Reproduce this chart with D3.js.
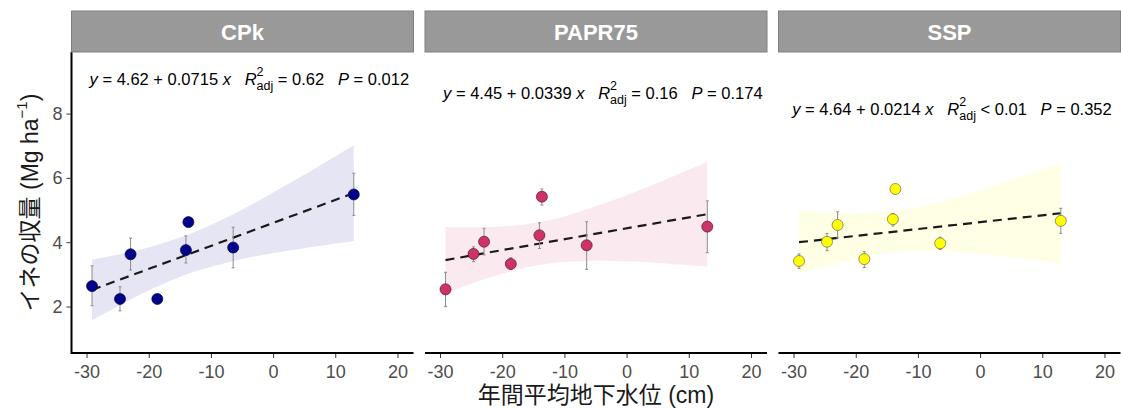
<!DOCTYPE html>
<meta charset="utf-8">
<style>
body { margin: 0; background: #fff; }
svg { font-family: "Liberation Sans", Arial, "Noto Sans CJK JP", sans-serif; }
.tick-label { fill: #4d4d4d; font-size: 18px; }
.strip-text { fill: #fff; font-size: 22px; font-weight: bold; }
.axis-title { fill: #1a1a1a; font-size: 23px; }
</style>
<body>
<div id="chart"></div>
<script src="https://d3js.org/d3.v7.min.js"></script>
<script>

// ---- data ----
var panels = ["CPk", "PAPR75", "SSP"];
var waterLevel = [-29.2, -24.7, -23.0, -18.7, -14.1, -13.7, -6.5, 12.9];

var yieldCPk = [2.65, 2.25, 3.64, 2.25, 3.77, 4.64, 3.85, 5.50];
var hiCPk    = [3.28, 2.63, 4.14, 2.33, 4.21, 4.72, 4.48, 6.16];
var loCPk    = [2.04, 1.88, 3.15, 2.17, 3.37, 4.56, 3.22, 4.85];

var yieldPAPR = [2.55, 3.65, 4.03, 3.34, 4.23, 5.43, 3.92, 4.50];
var hiPAPR    = [3.08, 3.87, 4.45, 3.53, 4.62, 5.67, 4.65, 5.30];
var loPAPR    = [2.01, 3.41, 3.62, 3.17, 3.82, 5.17, 3.17, 3.69];

var yieldSSP = [3.43, 4.03, 4.55, 3.49, 4.73, 5.67, 3.98, 4.68];
var hiSSP    = [3.65, 4.29, 4.96, 3.72, 4.91, 5.75, 4.17, 5.07];
var loSSP    = [3.20, 3.75, 4.15, 3.23, 4.52, 5.59, 3.79, 4.29];

// fitted model (from the printed equations)
var intercepts = [4.62, 4.45, 4.64];
var slopes = [0.0715, 0.0339, 0.0214];
var r2Text = ["= 0.62", "= 0.16", "< 0.01"];
var pText = ["0.012", "0.174", "0.352"];

// 95% confidence band, read at a few x positions
var bandX = [-29.2, -25, -20, -14.6, -10, -5, 0, 5, 12.9];
var bandLoCPk = [1.59, 2.03, 2.52, 2.97, 3.25, 3.49, 3.68, 3.83, 4.05];
var bandHiCPk = [3.47, 3.63, 3.86, 4.19, 4.56, 5.03, 5.57, 6.12, 7.03];
var bandLoPAPR = [2.43, 2.73, 3.04, 3.29, 3.40, 3.44, 3.42, 3.37, 3.26];
var bandHiPAPR = [4.49, 4.47, 4.50, 4.62, 4.82, 5.13, 5.48, 5.87, 6.52];
var bandLoSSP = [3.03, 3.27, 3.51, 3.69, 3.75, 3.72, 3.65, 3.55, 3.36];
var bandHiSSP = [5.00, 4.94, 4.91, 4.97, 5.11, 5.34, 5.63, 5.95, 6.48];

var xTicks = [-30, -20, -10, 0, 10, 20];
var yTicks = [2, 4, 6, 8];

// label placement (data coords)
var labelX = [-3.9, -3.9, -4.6];
var labelY = [9.09, 8.65, 8.16];

var pointFill = ["#00008b", "#cc3366", "#ffff00"];
var pointStroke = ["#000040", "#5a1030", "#666666"];

// ---- layout ----
var width = 1121, height = 409;
var panelLeft = [71.5, 425, 778.5],
    panelW = 342,
    stripTop = 11, stripH = 41,
    plotTop = 52, plotH = 301;

var series = [
  {y: yieldCPk, hi: hiCPk, lo: loCPk, bl: bandLoCPk, bh: bandHiCPk},
  {y: yieldPAPR, hi: hiPAPR, lo: loPAPR, bl: bandLoPAPR, bh: bandHiPAPR},
  {y: yieldSSP, hi: hiSSP, lo: loSSP, bl: bandLoSSP, bh: bandHiSSP}
];

var svg = d3.select("#chart").append("svg")
  .attr("width", width)
  .attr("height", height);

var x = d3.scaleLinear().domain([-32.5, 22.5]).range([0, panelW]);
var y = d3.scaleLinear().domain([0.57, 9.93]).range([plotH, 0]);

panels.forEach(function(name, i) {
  var s = series[i];
  var g = svg.append("g").attr("transform", `translate(${panelLeft[i]},${plotTop})`);

  // strip
  svg.append("rect")
    .attr("x", panelLeft[i]).attr("y", stripTop)
    .attr("width", panelW).attr("height", stripH)
    .attr("fill", "#999999").attr("stroke", "#808080").attr("stroke-width", 1);
  svg.append("text")
    .attr("class", "strip-text")
    .attr("x", panelLeft[i] + panelW / 2).attr("y", stripTop + stripH / 2 + 0.5)
    .attr("text-anchor", "middle").attr("dominant-baseline", "central")
    .text(name);

  // confidence band
  var band = bandX.map(function(v, k) { return {x: v, lo: s.bl[k], hi: s.bh[k]}; });
  g.append("path")
    .datum(band)
    .attr("fill", pointFill[i]).attr("fill-opacity", 0.1)
    .attr("d", d3.area()
      .x(d => x(d.x)).y0(d => y(d.lo)).y1(d => y(d.hi))
      .curve(d3.curveNatural));

  // regression line
  var ends = [d3.min(waterLevel), d3.max(waterLevel)];
  g.append("line")
    .attr("x1", x(ends[0])).attr("y1", y(intercepts[i] + slopes[i] * ends[0]))
    .attr("x2", x(ends[1])).attr("y2", y(intercepts[i] + slopes[i] * ends[1]))
    .attr("stroke", "#1a1a1a").attr("stroke-width", 2.2)
    .attr("stroke-dasharray", "9,6");

  // error bars
  var pts = waterLevel.map(function(v, k) { return {x: v, y: s.y[k], lo: s.lo[k], hi: s.hi[k]}; });
  var eb = g.selectAll(".eb").data(pts).enter().append("g").attr("class", "eb")
    .attr("stroke", "#8c8c8c").attr("stroke-width", 1);
  eb.append("line")
    .attr("x1", d => x(d.x)).attr("x2", d => x(d.x))
    .attr("y1", d => y(d.lo)).attr("y2", d => y(d.hi));
  eb.append("line")
    .attr("x1", d => x(d.x) - 1.5).attr("x2", d => x(d.x) + 1.5)
    .attr("y1", d => y(d.lo)).attr("y2", d => y(d.lo));
  eb.append("line")
    .attr("x1", d => x(d.x) - 1.5).attr("x2", d => x(d.x) + 1.5)
    .attr("y1", d => y(d.hi)).attr("y2", d => y(d.hi));

  // points
  g.selectAll(".pt").data(pts).enter().append("circle")
    .attr("class", "pt")
    .attr("cx", d => x(d.x)).attr("cy", d => y(d.y))
    .attr("r", 5.5)
    .attr("fill", pointFill[i]).attr("stroke", pointStroke[i]).attr("stroke-width", 0.7);

  // equation label
  drawLabel(g, x(labelX[i]), y(labelY[i]), i);

  // x axis
  var xa = g.append("g").attr("transform", `translate(0,${plotH})`);
  xa.append("line").attr("x1", 0).attr("x2", panelW)
    .attr("stroke", "#000").attr("stroke-width", 2);
  var xt = xa.selectAll(".xt").data(xTicks).enter().append("g")
    .attr("transform", d => `translate(${x(d)},0)`);
  xt.append("line").attr("y1", 1).attr("y2", 5).attr("stroke", "#333").attr("stroke-width", 1);
  xt.append("text").attr("class", "tick-label")
    .attr("y", 25).attr("text-anchor", "middle")
    .text(d => d);

  // y axis only on first panel
  if (i === 0) {
    var ya = g.append("g");
    ya.append("line").attr("y1", 0).attr("y2", plotH + 1)
      .attr("stroke", "#000").attr("stroke-width", 2);
    var yt = ya.selectAll(".yt").data(yTicks).enter().append("g")
      .attr("transform", d => `translate(0,${y(d)})`);
    yt.append("line").attr("x1", -5).attr("x2", -1).attr("stroke", "#333").attr("stroke-width", 1);
    yt.append("text").attr("class", "tick-label")
      .attr("x", -9).attr("text-anchor", "end").attr("dominant-baseline", "central")
      .text(d => d);
  }
});

function drawLabel(g, cx, cy, i) {
  var fs = 16.5;
  var lab = g.append("g");
  var cur = 0;
  function piece(str, opts) {
    opts = opts || {};
    var el = lab.append("text")
      .attr("x", cur).attr("y", cy + (opts.dy || 0))
      .attr("font-size", opts.size || fs)
      .attr("font-style", opts.italic ? "italic" : "normal")
      .attr("dominant-baseline", "central")
      .style("white-space", "pre")
      .text(str);
    var w = el.node().getComputedTextLength();
    if (!opts.noAdvance) cur += w;
    return w;
  }
  piece("y", {italic: true});
  piece(" = " + intercepts[i].toFixed(2) + " + " + slopes[i] + " ");
  piece("x", {italic: true});
  piece("   ");
  piece("R", {italic: true});
  var start = cur;
  var w1 = piece("2", {size: 12.5, dy: -7, noAdvance: true});
  var w2 = piece("adj", {size: 12.5, dy: 7, noAdvance: true});
  cur = start + Math.max(w1, w2);
  piece(" " + r2Text[i] + "   ");
  piece("P", {italic: true});
  piece(" = " + pText[i]);
  lab.attr("transform", `translate(${cx - cur / 2},0)`);
}

// axis titles
svg.append("text").attr("class", "axis-title")
  .attr("x", (panelLeft[0] + panelLeft[2] + panelW) / 2).attr("y", 395)
  .attr("text-anchor", "middle").attr("dominant-baseline", "central")
  .text("年間平均地下水位 (cm)");

var yTitle = svg.append("text").attr("class", "axis-title")
  .attr("transform", `translate(30,${plotTop + plotH / 2}) rotate(-90)`)
  .attr("text-anchor", "middle").attr("dominant-baseline", "central");
yTitle.append("tspan").text("イネの収量 (Mg ha");
yTitle.append("tspan").attr("font-size", 15).attr("dy", -9).text("\u22121");
yTitle.append("tspan").attr("dy", 9).text(")");

</script>
</body>
